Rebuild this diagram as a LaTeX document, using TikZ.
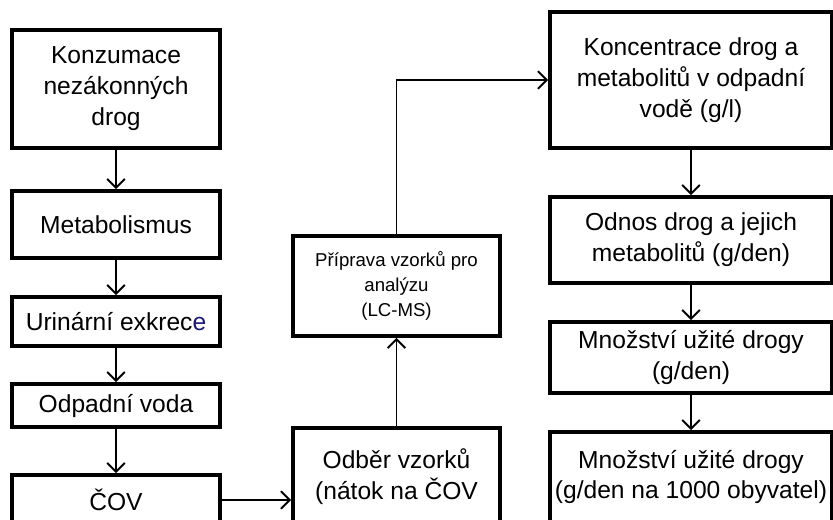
\documentclass[tikz,border=0pt]{standalone}
\usepackage{fontspec}
\setmainfont{Liberation Sans}
\usetikzlibrary{arrows.meta}

\begin{document}
\begin{tikzpicture}[
    box/.style={draw, line width=2.2pt, align=center, minimum width=4.16cm, inner sep=2pt, font=\fontsize{14}{17.6}\selectfont},
    widebox/.style={box, minimum width=5.64cm},
    smallbox/.style={box, minimum width=4.14cm, font=\fontsize{10.6}{14.2}\selectfont},
    arr/.style={line width=1.1pt, -{Straight Barb[length=5pt,width=10pt]}}
  ]
      % Frame
      \useasboundingbox (0,0) rectangle (16.66,10.4);
      \clip (0,0) rectangle (16.66,10.4);
      % Left column
      \node[box, minimum height=2.36cm] (konz) at (2.32,8.62) {Konzumace\\nezákonných\\drog};
      \node[box, minimum height=1.34cm] (metab) at (2.32,5.91) {Metabolismus};
      \node[box, minimum height=0.98cm] (urin) at (2.32,3.97) {Urinární exkrec\textcolor[rgb]{0.1,0.1,0.45}{e}};
      \node[box, minimum height=0.86cm] (odpad) at (2.32,2.29) {Odpadní voda};
      \node[box, minimum height=1.0cm] (cov) at (2.32,0.40) {ČOV};
      % Middle column
      \node[smallbox, minimum height=2.0cm] (prip) at (7.93,4.68) {Příprava vzorků pro\\analýzu\\(LC-MS)};
      \node[box, minimum width=4.14cm, minimum height=1.96cm] (odber) at (7.93,0.86) {Odběr vzorků\\(nátok na ČOV};
      % Right column
      \node[widebox, minimum height=2.72cm] (konc) at (13.82,8.8) {Koncentrace drog a\\metabolitů v odpadní\\vodě (g/l)};
      \node[widebox, minimum height=1.72cm] (odnos) at (13.82,5.6) {Odnos drog a jejich\\metabolitů (g/den)};
      \node[widebox, minimum height=1.42cm] (mnoz) at (13.82,3.25) {Množství užité drogy\\(g/den)};
      \node[widebox, minimum height=1.8cm] (mnozob) at (13.82,0.86) {Množství užité drogy\\(g/den na 1000 obyvatel)};
      % Arrows
      \draw[arr] (konz) -- (metab);
      \draw[arr] (metab) -- (urin);
      \draw[arr] (urin) -- (odpad);
      \draw[arr] (odpad) -- (cov);
      \draw[arr] (cov.east) -- (cov.east -| odber.west);
      \draw[arr] (odber) -- (prip);
      \draw[arr] (prip.north) |- (konc.west);
      \draw[arr] (konc) -- (odnos);
      \draw[arr] (odnos) -- (mnoz);
      \draw[arr] (mnoz) -- (mnozob);
\end{tikzpicture}
\end{document}
